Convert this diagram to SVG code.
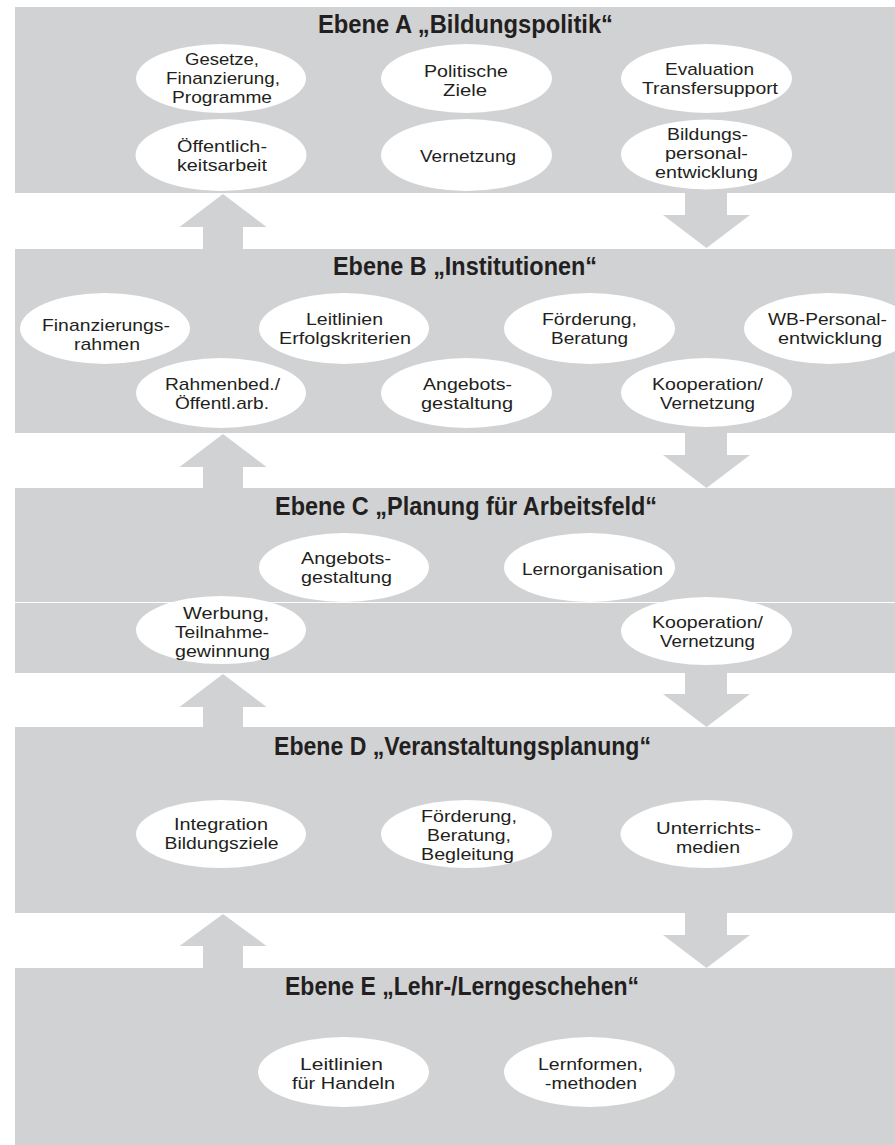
<svg xmlns="http://www.w3.org/2000/svg" width="895" height="1145" viewBox="0 0 895 1145">
<style>
.band{fill:#d1d2d4}
.arr{fill:#d1d2d4}
.el{fill:#ffffff}
text{font-family:"Liberation Sans Narrow","Liberation Sans",Arial,sans-serif;fill:#231f20;text-anchor:middle}
.t{font-size:17px}
.title{font-size:25px;font-weight:bold}
.sep{stroke:#ffffff;stroke-width:1}
</style>
<rect x="0" y="0" width="895" height="1145" fill="#ffffff"/>

<g id="band-A">
<rect class="band" x="15" y="7" width="880" height="186"/>
<text class="title" x="465.5" y="33" textLength="295" lengthAdjust="spacingAndGlyphs">Ebene A „Bildungspolitik“</text>
</g>
<g id="band-B">
<rect class="band" x="15" y="249" width="880" height="184"/>
<text class="title" x="465" y="275" textLength="264" lengthAdjust="spacingAndGlyphs">Ebene B „Institutionen“</text>
</g>
<g id="band-C">
<rect class="band" x="15" y="488" width="880" height="185"/>
<line class="sep" x1="15" y1="602.5" x2="895" y2="602.5"/>
<text class="title" x="466" y="515" textLength="382" lengthAdjust="spacingAndGlyphs">Ebene C „Planung für Arbeitsfeld“</text>
</g>
<g id="band-D">
<rect class="band" x="15" y="727" width="880" height="186"/>
<text class="title" x="462.5" y="755" textLength="377" lengthAdjust="spacingAndGlyphs">Ebene D „Veranstaltungsplanung“</text>
</g>
<g id="band-E">
<rect class="band" x="15" y="968" width="880" height="177"/>
<text class="title" x="462" y="995" textLength="354" lengthAdjust="spacingAndGlyphs">Ebene E „Lehr-/Lerngeschehen“</text>
</g>

<g id="connectors">
<polygon class="arr" points="223,194 266.5,227 243,227 243,250 203,250 203,227 179.5,227"/>
<polygon class="arr" points="685,192 727,192 727,215 750,215 706.5,248 663,215 685,215"/>
<polygon class="arr" points="223,434 266.5,467 243,467 243,489 203,489 203,467 179.5,467"/>
<polygon class="arr" points="685,432 727,432 727,455 750,455 706.5,488 663,455 685,455"/>
<polygon class="arr" points="223,674 266.5,707 243,707 243,728 203,728 203,707 179.5,707"/>
<polygon class="arr" points="685,672 727,672 727,694 750,694 706.5,727 663,694 685,694"/>
<polygon class="arr" points="223,914 266.5,946 243,946 243,969 203,969 203,946 179.5,946"/>
<polygon class="arr" points="685,912 727,912 727,935 750,935 706.5,968 663,935 685,935"/>
</g>

<g id="n-a1"><ellipse class="el" cx="221" cy="78.5" rx="85" ry="34.5"/>
<text class="t" x="222" y="65" textLength="74" lengthAdjust="spacingAndGlyphs">Gesetze,</text>
<text class="t" x="223" y="84" textLength="114" lengthAdjust="spacingAndGlyphs">Finanzierung,</text>
<text class="t" x="222" y="103" textLength="100" lengthAdjust="spacingAndGlyphs">Programme</text></g>
<g id="n-a2"><ellipse class="el" cx="466.5" cy="78.5" rx="85.5" ry="34.5"/>
<text class="t" x="466" y="76.5" textLength="84" lengthAdjust="spacingAndGlyphs">Politische</text>
<text class="t" x="465" y="95.5" textLength="44" lengthAdjust="spacingAndGlyphs">Ziele</text></g>
<g id="n-a3"><ellipse class="el" cx="706.5" cy="78.5" rx="85.5" ry="34.5"/>
<text class="t" x="709.5" y="75" textLength="89" lengthAdjust="spacingAndGlyphs">Evaluation</text>
<text class="t" x="710" y="94" textLength="136" lengthAdjust="spacingAndGlyphs">Transfersupport</text></g>
<g id="n-a4"><ellipse class="el" cx="221" cy="155" rx="85.5" ry="36"/>
<text class="t" x="222" y="151.5" textLength="90" lengthAdjust="spacingAndGlyphs">Öffentlich-</text>
<text class="t" x="222" y="170.5" textLength="90" lengthAdjust="spacingAndGlyphs">keitsarbeit</text></g>
<g id="n-a5"><ellipse class="el" cx="466.5" cy="155" rx="85.5" ry="36"/>
<text class="t" x="468" y="161.5" textLength="96" lengthAdjust="spacingAndGlyphs">Vernetzung</text></g>
<g id="n-a6"><ellipse class="el" cx="706.5" cy="154.5" rx="85.5" ry="35"/>
<text class="t" x="707.5" y="139.5" textLength="81" lengthAdjust="spacingAndGlyphs">Bildungs-</text>
<text class="t" x="706.5" y="158.5" textLength="83" lengthAdjust="spacingAndGlyphs">personal-</text>
<text class="t" x="706.5" y="177.5" textLength="103" lengthAdjust="spacingAndGlyphs">entwicklung</text></g>

<g id="n-b1"><ellipse class="el" cx="105" cy="328.5" rx="85" ry="35.5"/>
<text class="t" x="106" y="330.5" textLength="128" lengthAdjust="spacingAndGlyphs">Finanzierungs-</text>
<text class="t" x="107" y="349.5" textLength="66" lengthAdjust="spacingAndGlyphs">rahmen</text></g>
<g id="n-b2"><ellipse class="el" cx="344" cy="328.5" rx="85" ry="35.5"/>
<text class="t" x="344.5" y="324.5" textLength="77" lengthAdjust="spacingAndGlyphs">Leitlinien</text>
<text class="t" x="345" y="343.5" textLength="132" lengthAdjust="spacingAndGlyphs">Erfolgskriterien</text></g>
<g id="n-b3"><ellipse class="el" cx="589.5" cy="328.5" rx="85.5" ry="35.5"/>
<text class="t" x="589.5" y="324.5" textLength="95" lengthAdjust="spacingAndGlyphs">Förderung,</text>
<text class="t" x="589.5" y="343.5" textLength="77" lengthAdjust="spacingAndGlyphs">Beratung</text></g>
<g id="n-b4"><ellipse class="el" cx="829" cy="328.5" rx="85" ry="35.5"/>
<text class="t" x="827.5" y="324.5" textLength="119" lengthAdjust="spacingAndGlyphs">WB-Personal-</text>
<text class="t" x="830" y="343.5" textLength="104" lengthAdjust="spacingAndGlyphs">entwicklung</text></g>
<g id="n-b5"><ellipse class="el" cx="221" cy="393" rx="85" ry="35"/>
<text class="t" x="222.5" y="390" textLength="115" lengthAdjust="spacingAndGlyphs">Rahmenbed./</text>
<text class="t" x="222" y="409" textLength="94" lengthAdjust="spacingAndGlyphs">Öffentl.arb.</text></g>
<g id="n-b6"><ellipse class="el" cx="466.5" cy="393" rx="85.5" ry="35"/>
<text class="t" x="467.5" y="390" textLength="89" lengthAdjust="spacingAndGlyphs">Angebots-</text>
<text class="t" x="467" y="409" textLength="92" lengthAdjust="spacingAndGlyphs">gestaltung</text></g>
<g id="n-b7"><ellipse class="el" cx="706.5" cy="392.5" rx="85.5" ry="34.5"/>
<text class="t" x="707.5" y="390" textLength="111" lengthAdjust="spacingAndGlyphs">Kooperation/</text>
<text class="t" x="707.5" y="409" textLength="95" lengthAdjust="spacingAndGlyphs">Vernetzung</text></g>

<g id="n-c1"><ellipse class="el" cx="344" cy="567.5" rx="85" ry="34.5"/>
<text class="t" x="346" y="564" textLength="90" lengthAdjust="spacingAndGlyphs">Angebots-</text>
<text class="t" x="346.5" y="583" textLength="91" lengthAdjust="spacingAndGlyphs">gestaltung</text></g>
<g id="n-c2"><ellipse class="el" cx="589.5" cy="567.5" rx="85.5" ry="34.5"/>
<text class="t" x="592.5" y="575" textLength="141" lengthAdjust="spacingAndGlyphs">Lernorganisation</text></g>
<g id="n-c3"><ellipse class="el" cx="221" cy="630" rx="85" ry="34"/>
<text class="t" x="226" y="619" textLength="86" lengthAdjust="spacingAndGlyphs">Werbung,</text>
<text class="t" x="222" y="638" textLength="94" lengthAdjust="spacingAndGlyphs">Teilnahme-</text>
<text class="t" x="222.5" y="657" textLength="95" lengthAdjust="spacingAndGlyphs">gewinnung</text></g>
<g id="n-c4"><ellipse class="el" cx="706.5" cy="631" rx="85.5" ry="34"/>
<text class="t" x="707.5" y="628" textLength="111" lengthAdjust="spacingAndGlyphs">Kooperation/</text>
<text class="t" x="707.5" y="647" textLength="95" lengthAdjust="spacingAndGlyphs">Vernetzung</text></g>

<g id="n-d1"><ellipse class="el" cx="221" cy="834" rx="85" ry="34"/>
<text class="t" x="221" y="830" textLength="94" lengthAdjust="spacingAndGlyphs">Integration</text>
<text class="t" x="221.5" y="849" textLength="114" lengthAdjust="spacingAndGlyphs">Bildungsziele</text></g>
<g id="n-d2"><ellipse class="el" cx="466.5" cy="834" rx="85.5" ry="34"/>
<text class="t" x="469" y="821.5" textLength="96" lengthAdjust="spacingAndGlyphs">Förderung,</text>
<text class="t" x="469" y="840.5" textLength="84" lengthAdjust="spacingAndGlyphs">Beratung,</text>
<text class="t" x="467.5" y="859.5" textLength="93" lengthAdjust="spacingAndGlyphs">Begleitung</text></g>
<g id="n-d3"><ellipse class="el" cx="706.5" cy="834" rx="86" ry="34"/>
<text class="t" x="708.5" y="834" textLength="105" lengthAdjust="spacingAndGlyphs">Unterrichts-</text>
<text class="t" x="708" y="853" textLength="64" lengthAdjust="spacingAndGlyphs">medien</text></g>

<g id="n-e1"><ellipse class="el" cx="343.5" cy="1072" rx="85.5" ry="35"/>
<text class="t" x="341.5" y="1070" textLength="83" lengthAdjust="spacingAndGlyphs">Leitlinien</text>
<text class="t" x="343.5" y="1089" textLength="103" lengthAdjust="spacingAndGlyphs">für Handeln</text></g>
<g id="n-e2"><ellipse class="el" cx="589.5" cy="1072" rx="85.5" ry="35"/>
<text class="t" x="590.5" y="1069.5" textLength="105" lengthAdjust="spacingAndGlyphs">Lernformen,</text>
<text class="t" x="591" y="1088.5" textLength="92" lengthAdjust="spacingAndGlyphs">-methoden</text></g>
</svg>
